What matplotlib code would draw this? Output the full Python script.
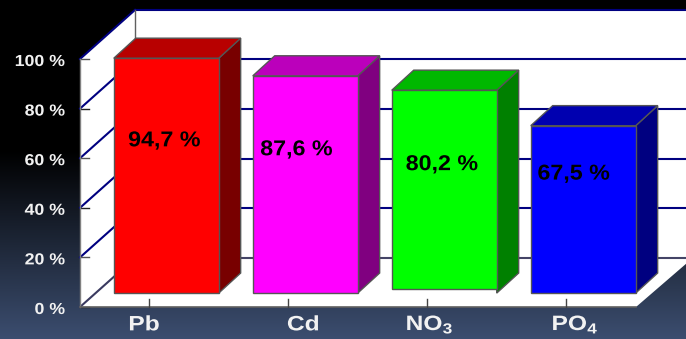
import numpy as np
import matplotlib
matplotlib.use("Agg")
import matplotlib.pyplot as plt
from matplotlib.patches import Polygon
from matplotlib.patheffects import AbstractPathEffect
from matplotlib.transforms import Affine2D

plt.rcParams['font.family'] = ['Liberation Sans', 'DejaVu Sans']
plt.rcParams['mathtext.fontset'] = 'custom'
plt.rcParams['mathtext.bf'] = 'Liberation Sans:bold'
plt.rcParams['mathtext.rm'] = 'Liberation Sans:bold'

categories = ["Pb", "Cd", r"NO$_{\mathbf{3}}$", r"PO$_{\mathbf{4}}$"]
values = [94.7, 87.6, 80.2, 67.5]
value_labels = ["94,7 %", "87,6 %", "80,2 %", "67,5 %"]
y_ticks = [0, 20, 40, 60, 80, 100]

front_colors = ["#ff0000", "#ff00ff", "#00ff00", "#0000ff"]
top_colors = ["#b80000", "#bb00bb", "#00b800", "#0000b0"]
side_colors = ["#780000", "#800080", "#008000", "#000080"]

# bar placement on the 3d floor
bar_base = [5.6, 5.6, 7.2, 5.6]
bar_shift = 0.124
bar_width = 0.755
depth_x, depth_y = 0.158, 8.1       # depth of a bar
wall_x, wall_y = 0.396, 19.8        # depth of the whole box
label_x = [0.11, 0.06, 0.107, 0.055]
label_y = [67.0, 63.4, 57.4, 53.6]
cat_x = [-0.035, 0.11, 0.02, 0.067]


class WideText(AbstractPathEffect):
    # widens the glyphs of a text around its centre or right end
    def __init__(self, sx, anchor="center"):
        super().__init__()
        self.sx = sx
        self.anchor = anchor

    def draw_path(self, renderer, gc, tpath, affine, rgbFace=None):
        box = tpath.get_extents()
        ref = box.x1 if self.anchor == "right" else (box.x0 + box.x1) / 2
        wide = Affine2D().translate(-ref, 0).scale(self.sx, 1).translate(ref, 0)
        renderer.draw_path(gc, tpath, wide + affine, rgbFace)


fig = plt.figure(figsize=(6.86, 3.39), dpi=100)
ax = fig.add_axes([0, 0, 1, 1])
# 0 % sits at 307 px, 100 % at 59 px; categories are 139 px apart
xmin, xmax = -149 / 139, 537 / 139
ymin, ymax = -32 / 2.48, 307 / 2.48
ax.set_xlim(xmin, xmax)
ax.set_ylim(ymin, ymax)
ax.axis("off")

# background fades from black to slate at the bottom
grad = np.ones((339, 1, 3))
t = np.clip((np.arange(339) - 150) / 189, 0, 1)[:, None]
grad[:, :, 0] = t[:, 0:1] * 0x3c / 255
grad[:, :, 1] = t[:, 0:1] * 0x4e / 255
grad[:, :, 2] = t[:, 0:1] * 0x70 / 255
ax.imshow(grad, extent=[xmin, xmax, ymin, ymax], aspect="auto", zorder=0)

x0 = -69 / 139       # left edge of the front plane
x1 = 487 / 139       # right edge of the front plane
WHITE = "#ffffff"
NAVY = "#000080"
GRAY = "#555555"

# left wall, back wall, floor
ax.add_patch(Polygon([(x0, 0), (x0, 100), (x0 + wall_x, 100 + wall_y), (x0 + wall_x, wall_y)],
                     fc=WHITE, ec="none", zorder=1))
ax.add_patch(Polygon([(x0 + wall_x, wall_y), (x0 + wall_x, 100 + wall_y), (xmax, 100 + wall_y), (xmax, wall_y)],
                     fc=WHITE, ec="none", zorder=1))
ax.add_patch(Polygon([(x0, 0), (x1, 0), (xmax, 17.4), (xmax, wall_y), (x0 + wall_x, wall_y)],
                     fc=WHITE, ec="none", zorder=1))

# grid lines run along the left wall and then the back wall
for tick in y_ticks:
    color = "#3a3a60" if tick == 0 else NAVY
    ax.plot([x0, x0 + wall_x], [tick, tick + wall_y], color=color, lw=1.5, zorder=2)
    ax.plot([x0 + wall_x, xmax], [tick + wall_y, tick + wall_y],
            color="#444466" if tick == 0 else NAVY, lw=1.5, zorder=2)
    ax.plot([x0, x0 + 9 / 139], [tick, tick], color=GRAY if tick % 40 else "#222222", lw=1, zorder=3)
    ax.text(x0 - 15 / 139, tick - 1.0, f"{tick} %", color="#f2f2f2", fontsize=11.5, fontweight="bold",
            ha="right", va="center", zorder=6, path_effects=[WideText(1.11, "right")])

# box edges
ax.plot([x0, x0], [0, 100], color="#808080", lw=1, zorder=3)
ax.plot([x0 + wall_x, x0 + wall_x], [wall_y, 100 + wall_y], color="#606060", lw=1, zorder=2)
ax.plot([x0, x1], [0, 0], color="#606060", lw=1.2, zorder=3)

for i, val in enumerate(values):
    left = i + bar_shift - bar_width / 2
    right = left + bar_width
    base = bar_base[i]
    top = base + val
    ax.add_patch(Polygon([(right, 5.6), (right, top), (right + depth_x, top + depth_y),
                          (right + depth_x, 5.6 + depth_y)],
                         fc=side_colors[i], ec="#555555", lw=1, zorder=4))
    ax.add_patch(Polygon([(left, top), (right, top), (right + depth_x, top + depth_y),
                          (left + depth_x, top + depth_y)],
                         fc=top_colors[i], ec="#555555", lw=1, zorder=4))
    ax.add_patch(Polygon([(left, base), (right, base), (right, top), (left, top)],
                         fc=front_colors[i], ec="#555555", lw=1, zorder=5))
    ax.text(i + label_x[i], label_y[i], value_labels[i], color="black", fontsize=15.5,
            fontweight="bold", ha="center", va="center", zorder=6, path_effects=[WideText(1.08)])
    ax.plot([i, i], [0, 3.2], color="#444444", lw=1, zorder=3)
    ax.text(i + cat_x[i], -7.2, categories[i], color="#f2f2f2", fontsize=15, fontweight="bold",
            ha="center", va="center", zorder=6, path_effects=[WideText(1.18)])

fig.savefig("out.png", dpi=100)
